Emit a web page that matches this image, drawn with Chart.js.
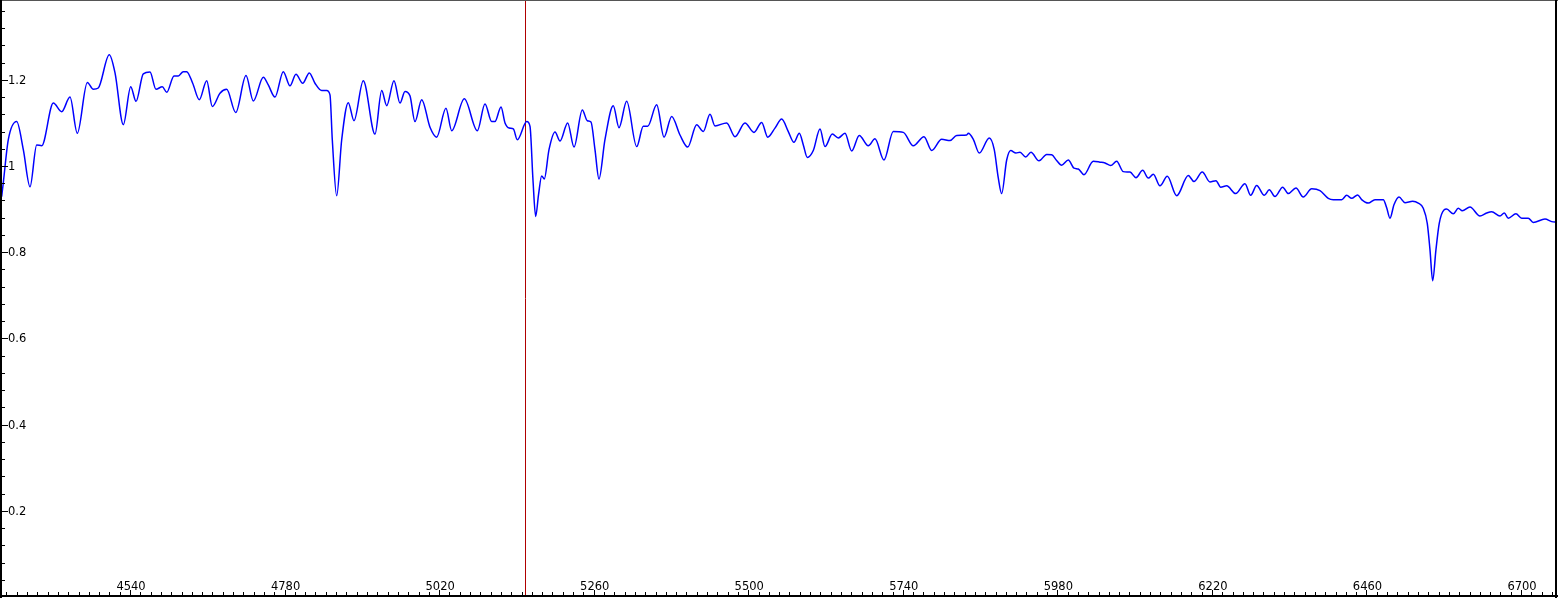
<!DOCTYPE html>
<html>
<head>
<meta charset="utf-8">
<script src="https://cdn.jsdelivr.net/npm/chart.js@4/dist/chart.umd.min.js"></script>
<style>
  html, body { margin: 0; padding: 0; background: #fff; overflow: hidden; }
  #spec { display: block; }
</style>
</head>
<body>
<canvas id="spec" width="1558" height="598"></canvas>
<script>
'use strict';

// spectrum (wavelength / relative flux)
var wavelength = [
  4340.7, 4343.2, 4351.0, 4364.0, 4374.3, 4384.7, 4395.1, 4402.9, 4420.9, 4433.9,
  4446.8, 4458.1, 4473.7, 4483.0, 4490.7, 4507.8, 4516.7, 4529.6, 4541.1, 4549.3,
  4560.6, 4571.0, 4580.3, 4590.1, 4597.0, 4608.3, 4615.0, 4622.7, 4628.0, 4637.3,
  4647.6, 4659.1, 4667.8, 4679.7, 4690.1, 4704.1, 4720.1, 4731.4, 4747.0, 4754.7,
  4765.1, 4778.0, 4788.4, 4797.7, 4808.1, 4818.4, 4827.2, 4837.6, 4845.4, 4850.5,
  4854.1, 4860.9, 4868.7, 4878.9, 4887.8, 4902.2, 4920.4, 4930.8, 4938.6, 4949.9,
  4959.2, 4967.0, 4974.7, 4982.5, 4992.9, 5005.8, 5016.2, 5030.6, 5039.5, 5059.1,
  5079.3, 5091.2, 5101.6, 5106.7, 5116.1, 5122.3, 5128.9, 5135.2, 5141.4, 5156.0,
  5161.1, 5165.7, 5169.9, 5174.3, 5179.2, 5183.3, 5190.6, 5199.9, 5207.7, 5219.6,
  5229.4, 5242.3, 5250.1, 5255.8, 5262.0, 5268.2, 5277.5, 5290.4, 5299.3, 5311.2,
  5326.8, 5337.0, 5343.8, 5357.8, 5369.2, 5381.1, 5394.0, 5406.0, 5419.9, 5430.2,
  5440.6, 5448.4, 5466.5, 5479.4, 5494.9, 5508.9, 5520.9, 5530.2, 5541.5, 5551.9,
  5562.2, 5571.0, 5579.3, 5585.5, 5591.7, 5601.0, 5611.4, 5619.2, 5630.5, 5639.8,
  5650.2, 5660.6, 5672.4, 5686.4, 5696.8, 5710.8, 5725.2, 5740.8, 5756.3, 5772.9,
  5784.8, 5800.4, 5813.3, 5823.7, 5839.2, 5841.7, 5849.5, 5858.8, 5874.3, 5882.0,
  5888.2, 5893.5, 5901.3, 5907.5, 5915.7, 5922.0, 5930.8, 5939.0, 5951.5, 5963.4,
  5971.2, 5978.9, 5986.7, 5997.0, 6005.8, 6012.5, 6021.3, 6035.8, 6046.2, 6054.0,
  6062.8, 6072.1, 6082.4, 6092.8, 6102.1, 6112.5, 6121.2, 6129.0, 6139.3, 6150.7,
  6165.3, 6183.3, 6192.1, 6205.0, 6217.0, 6226.3, 6233.6, 6242.9, 6256.9, 6271.3,
  6280.2, 6289.5, 6301.3, 6309.1, 6317.9, 6329.9, 6338.6, 6350.5, 6361.9, 6374.9,
  6387.8, 6400.7, 6408.5, 6421.5, 6429.3, 6437.0, 6446.3, 6452.5, 6462.8, 6473.2,
  6486.1, 6491.4, 6496.5, 6502.7, 6510.5, 6519.8, 6531.7, 6540.4, 6548.2, 6554.4,
  6558.6, 6562.8, 6567.9, 6573.0, 6580.3, 6584.5, 6594.8, 6602.6, 6608.8, 6620.7,
  6636.2, 6646.6, 6654.4, 6667.3, 6674.0, 6680.2, 6692.1, 6701.0, 6711.2, 6719.0,
  6737.2, 6747.6, 6755.3
];
var flux = [
  0.929, 0.961, 1.061, 1.103, 1.038, 0.952, 1.049, 1.047, 1.146, 1.126,
  1.160, 1.076, 1.194, 1.178, 1.181, 1.258, 1.216, 1.096, 1.184, 1.150,
  1.214, 1.218, 1.178, 1.184, 1.171, 1.209, 1.209, 1.219, 1.219, 1.192,
  1.154, 1.198, 1.138, 1.169, 1.178, 1.124, 1.210, 1.151, 1.206, 1.188,
  1.160, 1.219, 1.186, 1.213, 1.192, 1.216, 1.192, 1.175, 1.175, 1.165,
  1.061, 0.931, 1.061, 1.147, 1.105, 1.198, 1.074, 1.175, 1.140, 1.198,
  1.146, 1.173, 1.163, 1.103, 1.154, 1.090, 1.067, 1.134, 1.082, 1.156,
  1.082, 1.144, 1.103, 1.103, 1.137, 1.100, 1.088, 1.086, 1.061, 1.103,
  1.092, 0.968, 0.883, 0.933, 0.977, 0.970, 1.038, 1.079, 1.058, 1.100,
  1.044, 1.130, 1.105, 1.102, 1.038, 0.970, 1.061, 1.140, 1.089, 1.150,
  1.045, 1.092, 1.092, 1.142, 1.067, 1.115, 1.072, 1.044, 1.096, 1.080,
  1.120, 1.093, 1.100, 1.068, 1.100, 1.078, 1.101, 1.067, 1.088, 1.109,
  1.080, 1.055, 1.076, 1.049, 1.020, 1.036, 1.086, 1.045, 1.074, 1.065,
  1.076, 1.035, 1.071, 1.047, 1.063, 1.014, 1.080, 1.078, 1.047, 1.068,
  1.036, 1.062, 1.059, 1.071, 1.072, 1.076, 1.062, 1.030, 1.065, 1.038,
  0.973, 0.936, 1.014, 1.036, 1.030, 1.032, 1.021, 1.032, 1.012, 1.027,
  1.026, 1.013, 1.002, 1.014, 0.995, 0.993, 0.980, 1.011, 1.009, 1.007,
  1.001, 1.011, 0.987, 0.986, 0.973, 0.990, 0.972, 0.981, 0.954, 0.976,
  0.931, 0.978, 0.964, 0.986, 0.963, 0.966, 0.951, 0.954, 0.936, 0.959,
  0.932, 0.955, 0.932, 0.945, 0.929, 0.951, 0.936, 0.949, 0.928, 0.947,
  0.943, 0.925, 0.922, 0.922, 0.932, 0.925, 0.933, 0.922, 0.914, 0.922,
  0.922, 0.903, 0.879, 0.910, 0.928, 0.915, 0.918, 0.914, 0.902, 0.867,
  0.806, 0.734, 0.806, 0.867, 0.898, 0.900, 0.889, 0.902, 0.896, 0.905,
  0.884, 0.891, 0.894, 0.884, 0.891, 0.879, 0.889, 0.879, 0.879, 0.869,
  0.877, 0.871, 0.870
];

var xTickLabels = [4540, 4780, 5020, 5260, 5500, 5740, 5980, 6220, 6460, 6700];
var yTickLabels = [0.2, 0.4, 0.6, 0.8, 1, 1.2];
var cursorWavelength = 5154;

var points = wavelength.map(function (w, i) { return { x: w, y: flux[i] }; });

// frame, inside ticks and labels, cursor line
var framePlugin = {
    id: 'frame',
    beforeDatasetsDraw: function (chart) {
        var ctx = chart.ctx, a = chart.chartArea;
        var cx = Math.round(chart.scales.x.getPixelForValue(cursorWavelength)) + 0.5;
        ctx.save();
        ctx.strokeStyle = '#b00000';
        ctx.lineWidth = 1;
        ctx.beginPath();
        ctx.moveTo(cx, 0);
        ctx.lineTo(cx, a.bottom);
        ctx.stroke();
        ctx.restore();
    },
    afterDraw: function (chart) {
        var ctx = chart.ctx;
        var xs = chart.scales.x, ys = chart.scales.y;
        var W = chart.width, H = chart.height;
        ctx.save();

        // border
        ctx.fillStyle = '#555';
        ctx.fillRect(0, 0, W, 1);
        ctx.fillStyle = '#000';
        ctx.fillRect(0, 0, 2, H);
        ctx.fillRect(0, H - 3, W, 2);
        ctx.fillRect(W - 3, 0, 2, H);

        ctx.strokeStyle = '#000';
        ctx.lineWidth = 1;
        ctx.beginPath();
        // x ticks: minor every 16, major every 240
        for (var v = 4348; v <= xs.max; v += 16) {
            var px = Math.round(xs.getPixelForValue(v)) + 0.5;
            var len = ((v - 4540) % 240 === 0) ? 5 : 3;
            ctx.moveTo(px, H - 3);
            ctx.lineTo(px, H - 3 - len);
        }
        // y ticks: minor every 0.04, major every 0.2
        for (var i = 1; i * 0.04 <= ys.max; i++) {
            var py = Math.round(ys.getPixelForValue(i * 0.04)) + 0.5;
            var l2 = (i % 5 === 0) ? 6 : 3;
            ctx.moveTo(2, py);
            ctx.lineTo(2 + l2, py);
        }
        ctx.stroke();

        ctx.fillStyle = '#000';
        ctx.font = '11.5px "DejaVu Sans", Verdana, sans-serif';
        ctx.textAlign = 'center';
        ctx.textBaseline = 'alphabetic';
        xTickLabels.forEach(function (t) {
            ctx.fillText(String(t), xs.getPixelForValue(t) + 1, 590);
        });
        ctx.textAlign = 'left';
        ctx.textBaseline = 'middle';
        yTickLabels.forEach(function (t) {
            ctx.fillText(String(t), 8, ys.getPixelForValue(t) + 1);
        });
        ctx.restore();
    }
};

var ctx = document.getElementById('spec').getContext('2d');
var spectrumChart = new Chart(ctx, {
    type: 'line',
    data: {
        datasets: [{
            label: 'spectrum',
            data: points,
            borderColor: '#0000ff',
            borderWidth: 1.5,
            pointRadius: 0,
            fill: false,
            cubicInterpolationMode: 'monotone'
        }]
    },
    options: {
        responsive: false,
        animation: false,
        devicePixelRatio: 1,
        layout: { padding: { left: 1, right: 2, top: 0, bottom: 1 } },
        plugins: {
            legend: { display: false },
            tooltip: { enabled: false }
        },
        scales: {
            x: { type: 'linear', display: false, min: 4339.65, max: 6754.3 },
            y: { type: 'linear', display: false, min: 0, max: 1.3852 }
        }
    },
    plugins: [framePlugin]
});
</script>
</body>
</html>
